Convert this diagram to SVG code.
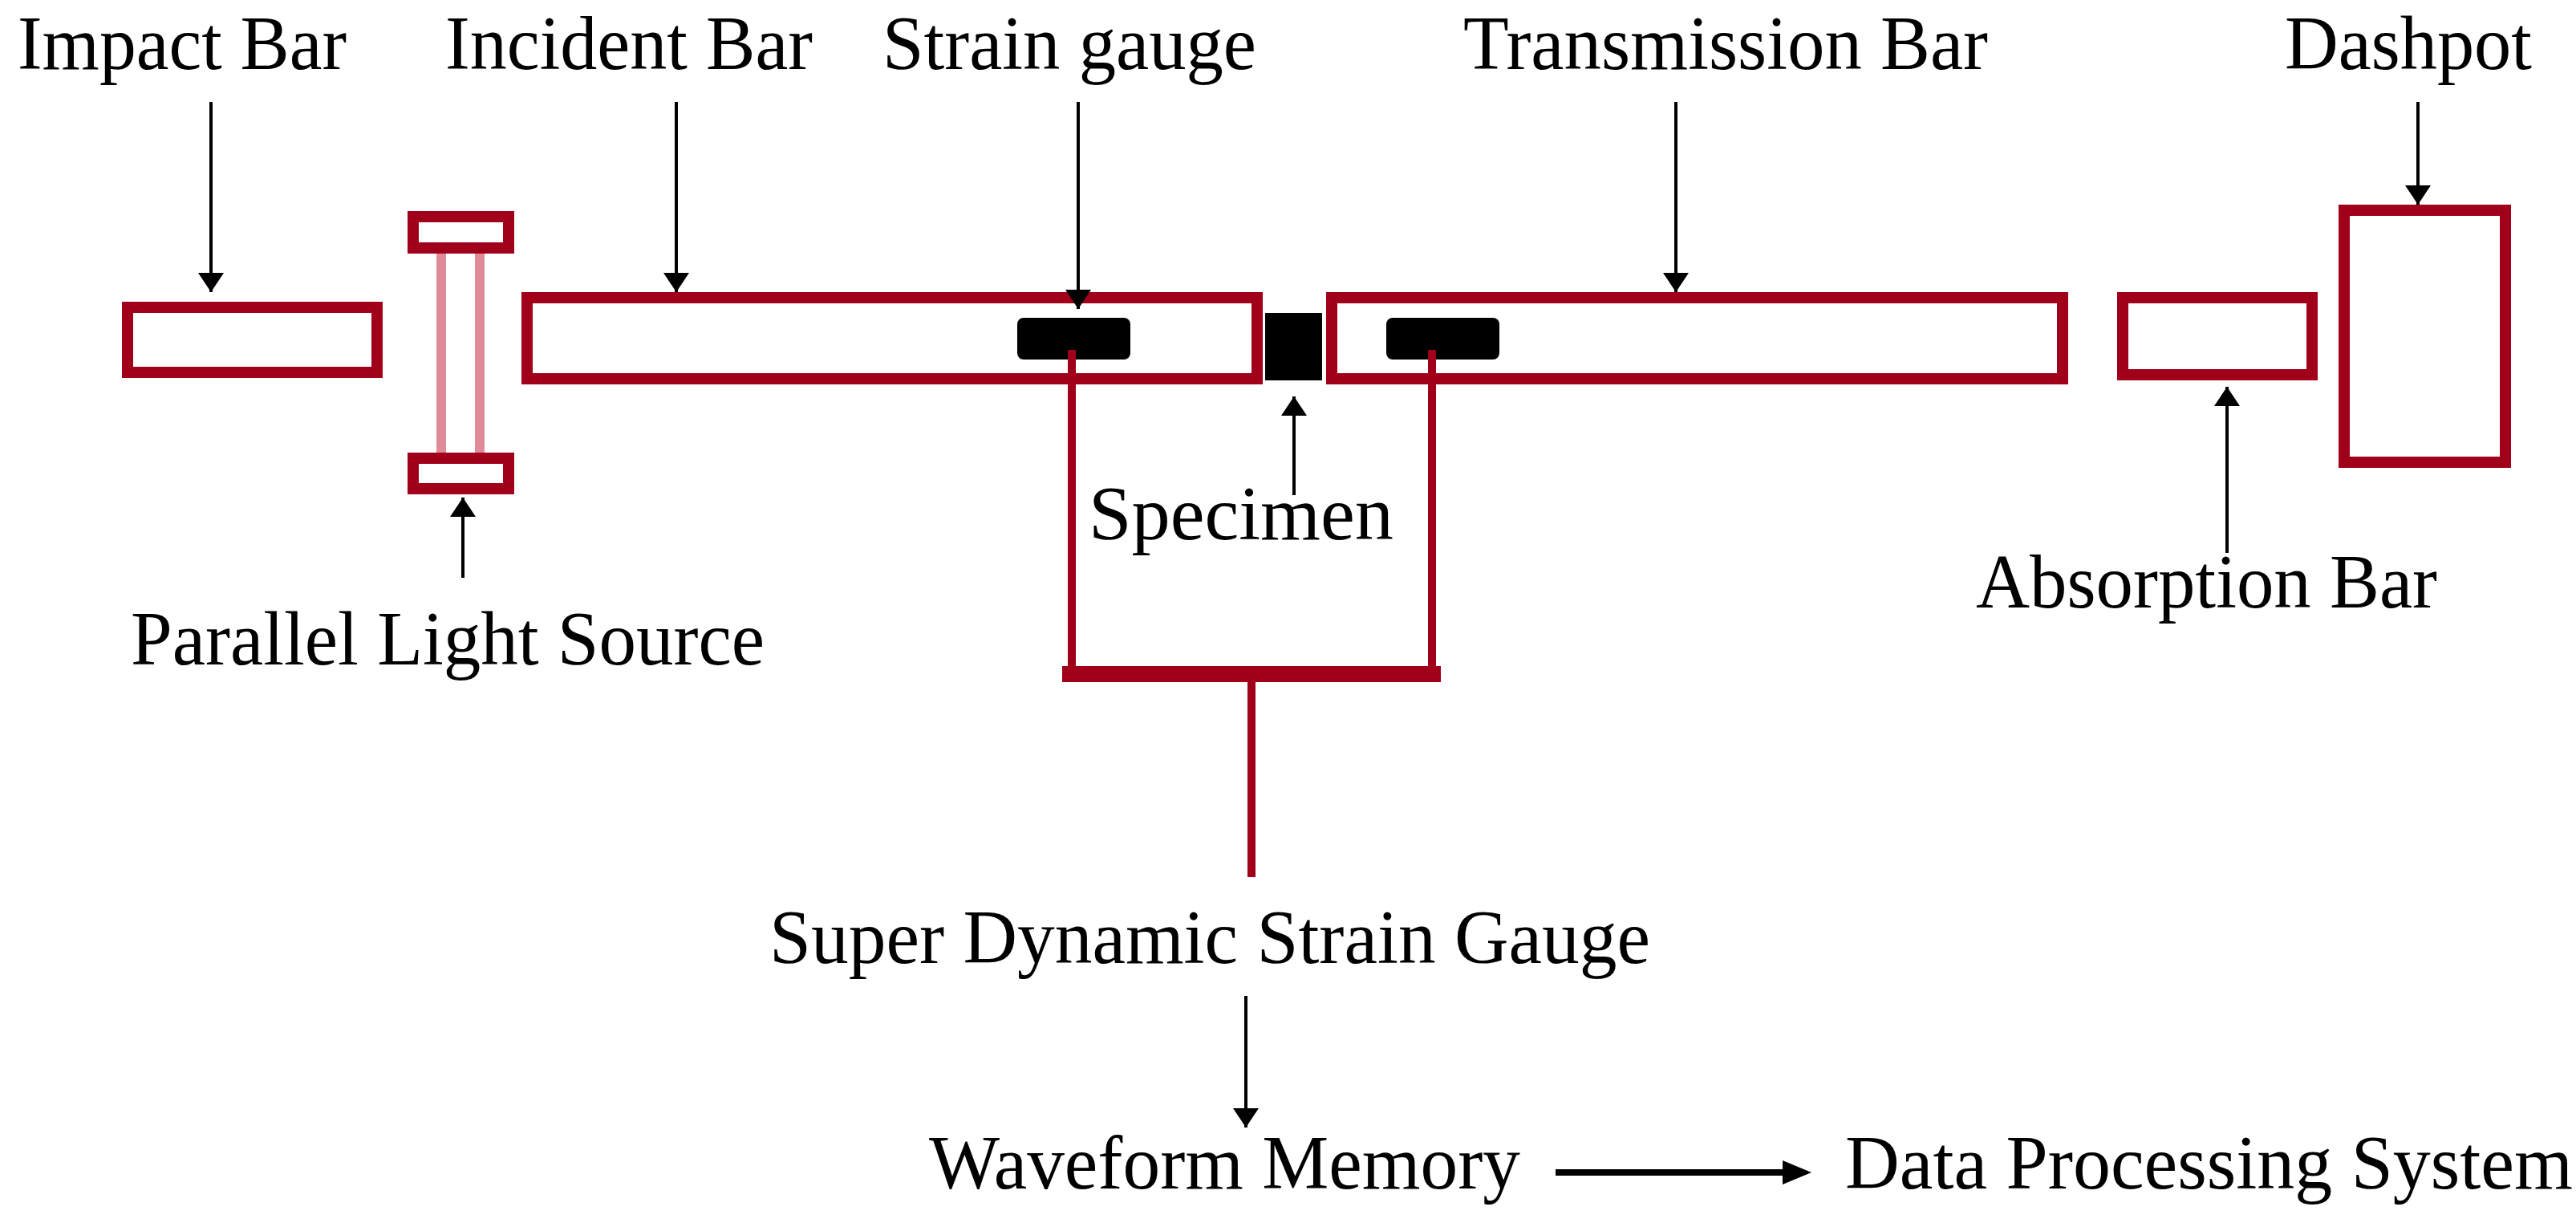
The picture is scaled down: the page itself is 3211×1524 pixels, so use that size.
<svg xmlns="http://www.w3.org/2000/svg" width="3211" height="1524" viewBox="0 0 3211 1524">
<style>
.bar{fill:#fff;stroke:#a0001a;stroke-width:14}
.lbl{font-family:"Liberation Serif","Times New Roman",serif;font-size:96px;fill:#000}
.ar{stroke:#000;stroke-width:4;fill:none;marker-end:url(#ah)}
.wire{stroke:#a0001a;stroke-width:10;fill:none}
</style>
<defs>
<marker id="ah" markerWidth="6" markerHeight="8" refX="6" refY="4" orient="auto" markerUnits="strokeWidth">
<path d="M0,0 L6,4 L0,8 Z" fill="#000"/>
</marker>
</defs>
<rect width="3211" height="1524" fill="#fff"/>
<g id="impact-bar"><rect class="bar" x="159" y="383" width="311" height="81"/><text class="lbl" x="22" y="86" textLength="410" lengthAdjust="spacingAndGlyphs">Impact Bar</text></g>
<g id="light-source">
<line x1="550" y1="315" x2="550" y2="565" stroke="#e08c98" stroke-width="12"/>
<line x1="598" y1="315" x2="598" y2="565" stroke="#e08c98" stroke-width="12"/>
<rect class="bar" x="515" y="270" width="119" height="39" stroke-width="12"/>
<rect class="bar" x="515" y="571" width="119" height="38" stroke-width="12"/>
<text class="lbl" x="163" y="828" textLength="790" lengthAdjust="spacingAndGlyphs">Parallel Light Source</text></g>
<g id="incident-bar"><rect class="bar" x="657" y="371" width="910" height="101"/><text class="lbl" x="555" y="86" textLength="458" lengthAdjust="spacingAndGlyphs">Incident Bar</text></g>
<g id="transmission-bar"><rect class="bar" x="1660" y="371" width="911" height="101"/><text class="lbl" x="1824" y="86" textLength="654" lengthAdjust="spacingAndGlyphs">Transmission Bar</text></g>
<g id="strain-gauge"><rect x="1268" y="396" width="141" height="52" rx="8" fill="#000"/><rect x="1728" y="396" width="141" height="52" rx="8" fill="#000"/><text class="lbl" x="1100" y="86" textLength="466" lengthAdjust="spacingAndGlyphs">Strain gauge</text></g>
<g id="specimen"><rect x="1577" y="390" width="71" height="84" fill="#000"/><text class="lbl" x="1357" y="672" textLength="380" lengthAdjust="spacingAndGlyphs">Specimen</text></g>
<g id="absorption-bar"><rect class="bar" x="2646" y="371" width="236" height="96"/><text class="lbl" x="2463" y="757" textLength="575" lengthAdjust="spacingAndGlyphs">Absorption Bar</text></g>
<g id="dashpot"><rect class="bar" x="2922" y="262" width="201" height="314"/><text class="lbl" x="2848" y="86" textLength="308" lengthAdjust="spacingAndGlyphs">Dashpot</text></g>
<g id="super-dynamic"><text class="lbl" x="959" y="1200" textLength="1098" lengthAdjust="spacingAndGlyphs">Super Dynamic Strain Gauge</text></g>
<g id="waveform"><text class="lbl" x="1158" y="1481" textLength="737" lengthAdjust="spacingAndGlyphs">Waveform Memory</text></g>
<g id="data-processing"><text class="lbl" x="2300" y="1481" textLength="907" lengthAdjust="spacingAndGlyphs">Data Processing System</text></g>
<g id="connectors">
<path class="wire" d="M1336,436 V840 H1785 V436"/>
<line x1="1324" y1="840" x2="1796" y2="840" stroke="#a0001a" stroke-width="20"/>
<line class="wire" x1="1560" y1="850" x2="1560" y2="1093"/>
<line class="ar" x1="263" y1="127" x2="263" y2="364"/>
<line class="ar" x1="843" y1="127" x2="843" y2="364"/>
<line class="ar" x1="1344" y1="127" x2="1344" y2="385"/>
<line class="ar" x1="2089" y1="127" x2="2089" y2="364"/>
<line class="ar" x1="3014" y1="127" x2="3014" y2="255"/>
<line class="ar" x1="577" y1="720" x2="577" y2="620"/>
<line class="ar" x1="1613" y1="617" x2="1613" y2="494"/>
<line class="ar" x1="2776" y1="689" x2="2776" y2="482"/>
<line class="ar" x1="1553" y1="1241" x2="1553" y2="1405"/>
<line x1="1939" y1="1461" x2="2230" y2="1461" stroke="#000" stroke-width="8"/>
<path d="M2222,1446 L2258,1461 L2222,1476 Z" fill="#000"/>
</g>
</svg>
